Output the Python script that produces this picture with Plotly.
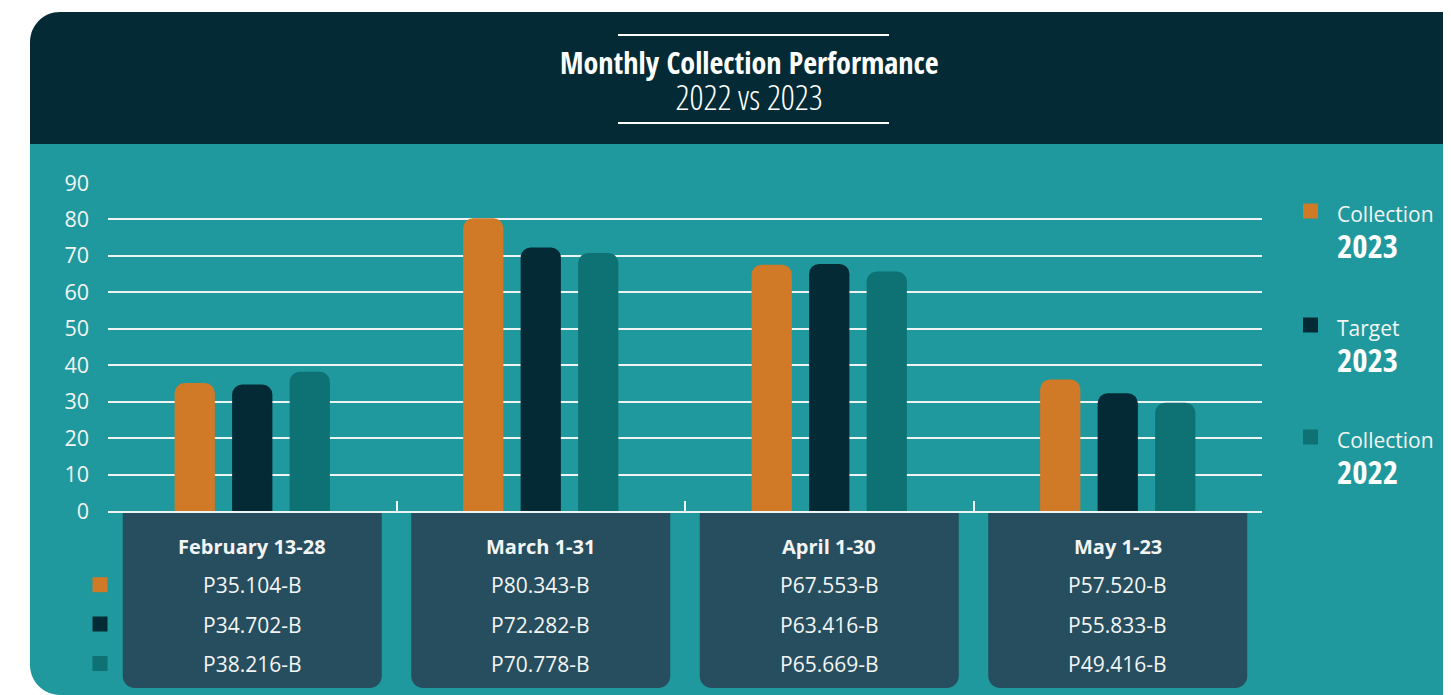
import plotly.graph_objects as go

# ---------------- data ----------------
categories = ["February 13-28", "March 1-31", "April 1-30", "May 1-23"]
collection_2023 = [35.1, 80.3, 67.6, 36.1]
target_2023 = [34.7, 72.3, 67.8, 32.3]
collection_2022 = [38.2, 70.8, 65.7, 29.7]
table_collection_2023 = ["P35.104-B", "P80.343-B", "P67.553-B", "P57.520-B"]
table_target_2023 = ["P34.702-B", "P72.282-B", "P63.416-B", "P55.833-B"]
table_collection_2022 = ["P38.216-B", "P70.778-B", "P65.669-B", "P49.416-B"]
y_ticks = [0, 10, 20, 30, 40, 50, 60, 70, 80, 90]
series_names = ["Collection", "Target", "Collection"]
series_years = ["2023", "2023", "2022"]
title_text = "Monthly Collection Performance"
subtitle_text = "2022 vs 2023"

# ---------------- style ----------------
W, H = 1451, 695
OFF = 8  # page body margin
L, R, T, B = 108, 1262, 183, 511
C_ORANGE = "#d07927"
C_DARK = "#042b35"
C_TEAL = "#0e7173"
C_BODY = "#1f999d"
C_BOX = "#264e5f"
C_TXT = "#f3f5f5"
NARROW = "Open Sans Condensed, Roboto Condensed, DejaVu Sans Condensed, sans-serif"
BODYF = "Open Sans, Noto Sans, sans-serif"
colors = [C_ORANGE, C_DARK, C_TEAL]


def fx(px):
    return (px - L) / (R - L)


def fy(py):
    return (B - py) / (B - T)


def P(px, py):
    return f"{fx(px):.5f},{fy(py):.5f}"


K = 0.5523

fig = go.Figure()
for name, vals, col in zip(["Collection 2023", "Target 2023", "Collection 2022"],
                           [collection_2023, target_2023, collection_2022], colors):
    fig.add_trace(go.Bar(x=categories, y=vals, name=name, marker=dict(color=col, line=dict(width=0)),
                         showlegend=False, hoverinfo="x+y+name"))

shapes = []
r = 30
hdr = (f"M{P(30,144)} L{P(30,12+r)} C{P(30,12+r-K*r)} {P(30+r-K*r,12)} {P(30+r,12)} "
       f"L{P(1470,12)} L{P(1470,144)} Z")
shapes.append(dict(type="path", xref="paper", yref="paper", path=hdr, fillcolor=C_DARK,
                   line=dict(width=0), layer="below"))
body = (f"M{P(30,144)} L{P(30,695-r)} C{P(30,695-r+K*r)} {P(30+r-K*r,695)} {P(30+r,695)} "
        f"L{P(1470,695)} L{P(1470,144)} Z")
shapes.append(dict(type="path", xref="paper", yref="paper", path=body, fillcolor=C_BODY,
                   line=dict(width=0), layer="below"))
for yy in (35, 123):
    shapes.append(dict(type="line", xref="paper", yref="paper", x0=fx(618), x1=fx(889),
                       y0=fy(yy), y1=fy(yy), line=dict(color="#ffffff", width=2)))

catw = (R - L) / len(categories)
rb = 12
for i in range(len(categories)):
    cx = L + (i + 0.5) * catw
    x0, x1 = cx - 129.5, cx + 129.5
    y0, y1 = 512, 688
    path = (f"M{P(x0,y0)} L{P(x1,y0)} L{P(x1,y1-rb)} C{P(x1,y1-rb+K*rb)} {P(x1-rb+K*rb,y1)} {P(x1-rb,y1)} "
            f"L{P(x0+rb,y1)} C{P(x0+rb-K*rb,y1)} {P(x0,y1-rb+K*rb)} {P(x0,y1-rb)} Z")
    shapes.append(dict(type="path", xref="paper", yref="paper", path=path, fillcolor=C_BOX,
                       line=dict(width=0), layer="below"))

annotations = []


def txt(x, y, s, size, family=BODYF, xanchor="center", color=C_TXT, weight="normal"):
    annotations.append(dict(x=fx(x), y=fy(y), xref="paper", yref="paper", text=s, showarrow=False,
                            xanchor=xanchor, yanchor="middle", align=xanchor if xanchor != "center" else "center",
                            font=dict(size=size, family=family, color=color, weight=weight)))


def square(cx, cy, col, s=15):
    shapes.append(dict(type="rect", xref="paper", yref="paper", x0=fx(cx - s / 2), x1=fx(cx + s / 2),
                       y0=fy(cy + s / 2), y1=fy(cy - s / 2), fillcolor=col, line=dict(width=0)))


# title + subtitle in one text block
sub_style = ("font-size:35px;font-weight:300;font-stretch:condensed;"
             "font-family:'Open Sans Condensed Light','Open Sans Condensed','Open Sans',sans-serif")
txt(749, 81,
    f"<span style=\"font-size:30px;font-weight:700\">{title_text}</span><br>"
    f"<span style=\"{sub_style}\">{subtitle_text}</span>",
    27.5, NARROW, color="#ffffff")

rows_y = [585, 625, 664]
for i, cat in enumerate(categories):
    cx = L + (i + 0.5) * catw
    txt(cx, 546, f"<b>{cat}</b>", 20)
    for ry, col in zip(rows_y, [table_collection_2023, table_target_2023, table_collection_2022]):
        txt(cx, ry, col[i], 21)
for ry, c in zip([584.7, 624, 663.5], colors):
    square(100, ry, c)

yr_style = ("font-size:33px;font-weight:700;color:#ffffff;"
            "font-family:'Open Sans Condensed','Roboto Condensed',sans-serif")
for sy, nm, yr, c in zip([211, 325, 437], series_names, series_years, colors):
    square(1310.5, sy, c)
    txt(1335, sy + 22.5, f"<span style=\"font-size:21px\">{nm}</span><br>"
                         f"<span style=\"{yr_style}\">{yr}</span>", 28, xanchor="left")

fig.update_layout(
    width=W - OFF, height=H - OFF,
    margin=dict(l=L - OFF, r=W - R, t=T - OFF, b=H - B, pad=0),
    paper_bgcolor="#ffffff", plot_bgcolor="rgba(0,0,0,0)",
    barmode="group", bargap=0.402, bargroupgap=0.3, barcornerradius=10,
    shapes=shapes, annotations=annotations,
    xaxis=dict(type="category", range=[-0.5, 3.5], showgrid=False, showline=True, linecolor="#eef3f3",
               linewidth=2, ticks="inside", tickson="boundaries", ticklen=10, tickcolor="#eef3f3",
               tickwidth=1.5, showticklabels=False, zeroline=False, fixedrange=True),
    yaxis=dict(range=[0, 90], tickvals=y_ticks, showgrid=True, gridcolor="#eef3f3", gridwidth=1.5,
               zeroline=False, showline=False, ticks="", ticklabelstandoff=18,
               tickfont=dict(size=21.5, family=BODYF, color=C_TXT), fixedrange=True),
    showlegend=False,
)

fig.write_html("out.html")
